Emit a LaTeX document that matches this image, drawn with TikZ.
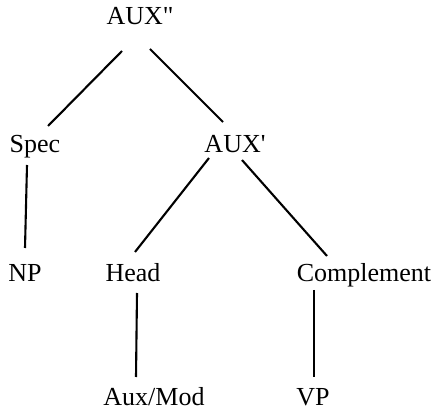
\documentclass[tikz,border=0pt]{standalone}
\usepackage{fontspec}
\newfontfamily\tfont{Liberation Serif}
\usetikzlibrary{calc}
\tikzset{
  lbl/.style={anchor=base, inner sep=0pt, font=\tfont\fontsize{26}{30}\selectfont},
  edge/.style={line width=2.1pt}
}
\begin{document}
\begin{tikzpicture}[x=1pt,y=-1pt]
\useasboundingbox (0,0) rectangle (436,411);
\node[lbl] (aux2) at (140,25) {AUX"};
\node[lbl] (spec) at (35,153) {Spec};
\node[lbl] (aux1) at (235,153) {AUX'};
\node[lbl] (np) at (25,282) {NP};
\node[lbl] (head) at (133,282) {Head};
\node[lbl] (comp) at (364,282) {Complement};
\node[lbl] (auxmod) at (154,405) {Aux/Mod};
\node[lbl] (vp) at (313,405) {VP};
\draw[edge] ($(aux2.base)+(-18,26)$) -- ($(spec.base)+(13,-27)$);
\draw[edge] ($(aux2.base)+(10,24)$) -- ($(aux1.base)+(-12,-31)$);
\draw[edge] ($(spec.base)+(-8,12)$) -- ($(np.base)+(0,-34)$);
\draw[edge] ($(aux1.base)+(-26,5)$) -- ($(head.base)+(2,-30)$);
\draw[edge] ($(aux1.base)+(7,7)$) -- ($(comp.base)+(-37,-26)$);
\draw[edge] ($(head.base)+(4,11)$) -- ($(auxmod.base)+(-18,-28)$);
\draw[edge] ($(comp.base)+(-50,8)$) -- ($(vp.base)+(1,-28)$);
\end{tikzpicture}
\end{document}
